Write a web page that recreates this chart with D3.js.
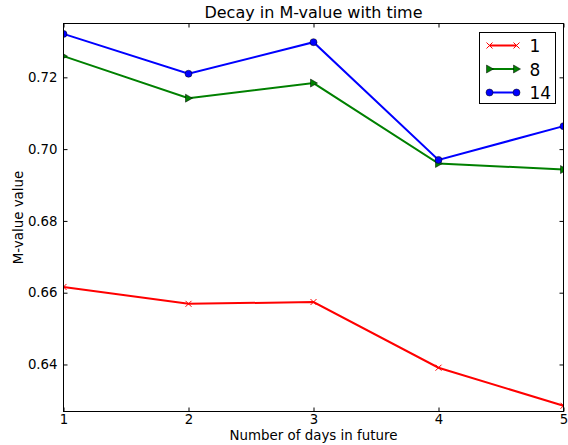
<!DOCTYPE html>
<html lang="en">
<head>
    <meta charset="UTF-8">
    <title>Decay in M-value with time</title>
    <script src="https://d3js.org/d3.v7.min.js"></script>
    <style>
        body { margin: 0; background: #fff; }
        svg { display: block; font-family: "DejaVu Sans", sans-serif; }
    </style>
</head>
<body>
    <script>
        const days = [1, 2, 3, 4, 5];
        const seriesNames = ["1", "8", "14"];
        const values1 = [0.6616, 0.6569, 0.6574, 0.6391, 0.6285];
        const values8 = [0.7259, 0.7142, 0.7184, 0.6960, 0.6943];
        const values14 = [0.7321, 0.7210, 0.7298, 0.6970, 0.7064];
        const yTicks = [0.64, 0.66, 0.68, 0.70, 0.72];

        const series = [
            { name: seriesNames[0], values: values1, color: "#ff0000", marker: "x" },
            { name: seriesNames[1], values: values8, color: "#008000", marker: "tri" },
            { name: seriesNames[2], values: values14, color: "#0000ff", marker: "circle" }
        ];

        const W = 568, H = 445;
        const margin = { top: 23.5, right: 4.5, bottom: 33.5, left: 63.5 };
        const width = W - margin.left - margin.right;
        const height = H - margin.top - margin.bottom;

        const svg = d3.select("body").append("svg")
            .attr("width", W)
            .attr("height", H);

        const g = svg.append("g")
            .attr("transform", `translate(${margin.left},${margin.top})`);

        const x = d3.scaleLinear().domain([1, 5]).range([0, width]);
        const y = d3.scaleLinear().domain([0.6269, 0.7350]).range([height, 0]);

        // clip so markers at edges get cut like matplotlib
        g.append("clipPath").attr("id", "clip")
            .append("rect").attr("width", width).attr("height", height);

        const plot = g.append("g").attr("clip-path", "url(#clip)");

        const line = d3.line()
            .x((d, i) => x(days[i]))
            .y(d => y(d));

        function drawMarker(sel, type, color) {
            if (type === "x") {
                sel.append("path")
                    .attr("d", "M-3,-3L3,3M-3,3L3,-3")
                    .attr("stroke", color).attr("stroke-width", 1).attr("fill", "none");
            } else if (type === "tri") {
                sel.append("path")
                    .attr("d", "M4,0L-3,-4L-3,4Z")
                    .attr("fill", color).attr("stroke", "#000").attr("stroke-width", 0.5);
            } else {
                sel.append("circle")
                    .attr("r", 3.5)
                    .attr("fill", color).attr("stroke", "#000").attr("stroke-width", 0.5);
            }
        }

        series.forEach(s => {
            plot.append("path")
                .datum(s.values)
                .attr("fill", "none")
                .attr("stroke", s.color)
                .attr("stroke-width", 2)
                .attr("d", line);

            plot.selectAll(null)
                .data(s.values)
                .enter()
                .append("g")
                .attr("transform", (d, i) => `translate(${x(days[i])},${y(d)})`)
                .each(function () { drawMarker(d3.select(this), s.marker, s.color); });
        });

        // axes with inward ticks on all sides
        const axisStyle = a => {
            a.select(".domain").remove();
            a.selectAll("line").attr("stroke", "#000");
            a.selectAll("text").attr("font-family", "DejaVu Sans, sans-serif").attr("font-size", 13.3).attr("fill", "#000");
        };

        g.append("g").attr("transform", `translate(0,${height})`)
            .call(d3.axisBottom(x).tickValues(days).tickFormat(d3.format("d")).tickSizeInner(-4).tickPadding(3))
            .call(axisStyle);
        g.append("g")
            .call(d3.axisTop(x).tickValues(days).tickSizeInner(-4).tickFormat(""))
            .call(axisStyle);
        g.append("g")
            .call(d3.axisLeft(y).tickValues(yTicks).tickFormat(d3.format(".2f")).tickSizeInner(-4).tickPadding(6))
            .call(axisStyle);
        g.append("g").attr("transform", `translate(${width},0)`)
            .call(d3.axisRight(y).tickValues(yTicks).tickSizeInner(-4).tickFormat(""))
            .call(axisStyle);

        g.append("rect")
            .attr("width", width).attr("height", height)
            .attr("fill", "none").attr("stroke", "#000").attr("stroke-width", 1);

        // title and labels
        svg.append("text")
            .attr("x", margin.left + width / 2).attr("y", 17.5)
            .attr("text-anchor", "middle").attr("font-size", 16)
            .text("Decay in M-value with time");

        svg.append("text")
            .attr("x", margin.left + width / 2).attr("y", 440)
            .attr("text-anchor", "middle").attr("font-size", 13.4)
            .text("Number of days in future");

        svg.append("text")
            .attr("transform", `translate(23,${margin.top + height / 2}) rotate(-90)`)
            .attr("text-anchor", "middle").attr("font-size", 13.4)
            .text("M-value value");

        // legend
        const legend = svg.append("g").attr("transform", "translate(479.5,32.5)");
        legend.append("rect")
            .attr("width", 76).attr("height", 71)
            .attr("fill", "#fff").attr("stroke", "#000").attr("stroke-width", 1);

        series.forEach((s, i) => {
            const row = legend.append("g").attr("transform", `translate(0,${13 + i * 23.5})`);
            row.append("line")
                .attr("x1", 10).attr("x2", 37)
                .attr("stroke", s.color).attr("stroke-width", 2);
            [10, 37].forEach(px => {
                const m = row.append("g").attr("transform", `translate(${px},0)`);
                drawMarker(m, s.marker, s.color);
            });
            row.append("text")
                .attr("x", 50).attr("y", 6.5)
                .attr("font-size", 17)
                .text(s.name);
        });
    </script>
</body>
</html>
